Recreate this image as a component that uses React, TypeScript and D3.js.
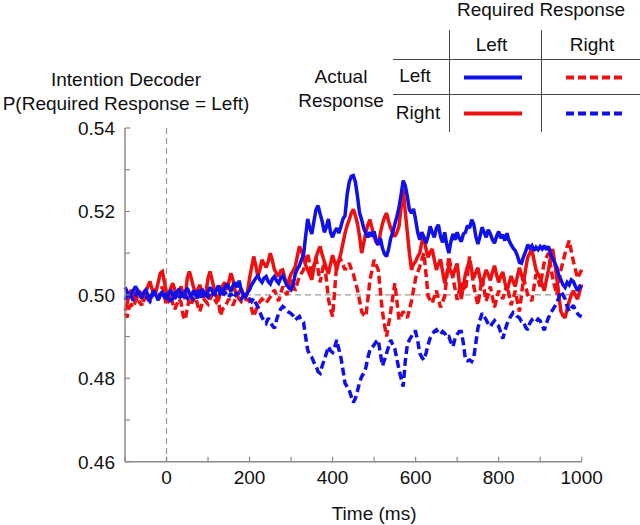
import React from 'react';
import * as d3 from 'd3';

const WIDTH = 640;
const HEIGHT = 525;
const FONT = '"Liberation Sans", Arial, sans-serif';
const BLUE = '#1010e8';
const RED = '#ee1010';
const AXIS = '#8a8a8a';

// time base of every series, ms (5 ms bins, -100 .. 1000)
const times = d3.range(-100, 1001, 5);

// Actual = Left, Required = Left (blue solid); one row per 100 ms
const actualLeftReqLeft = [
  0.5018, 0.5008, 0.4996, 0.5004, 0.501, 0.502, 0.5012, 0.5002, 0.4994, 0.5006, 0.5012, 0.5, 0.499, 0.5002, 0.501, 0.4998, 0.4988, 0.5, 0.5008, 0.4996,
  0.499, 0.5004, 0.5012, 0.4998, 0.499, 0.5006, 0.5014, 0.5002, 0.4994, 0.5008, 0.5016, 0.5004, 0.4996, 0.501, 0.5002, 0.4992, 0.5004, 0.5014, 0.5006, 0.4998,
  0.5008, 0.5018, 0.501, 0.5, 0.5012, 0.5022, 0.5014, 0.5004, 0.5016, 0.5026, 0.5018, 0.5008, 0.5022, 0.503, 0.5018, 0.5034, 0.501, 0.5002, 0.4996, 0.5006,
  0.5012, 0.5024, 0.5032, 0.504, 0.5046, 0.5036, 0.503, 0.504, 0.5044, 0.5032, 0.5026, 0.5038, 0.5044, 0.5034, 0.5028, 0.504, 0.5046, 0.5034, 0.5024, 0.5016,
  0.5012, 0.5024, 0.505, 0.5062, 0.507, 0.5084, 0.5096, 0.514, 0.5182, 0.516, 0.5146, 0.5176, 0.5204, 0.5214, 0.5194, 0.5176, 0.515, 0.5162, 0.5182, 0.515,
  0.5138, 0.5152, 0.516, 0.5148, 0.5164, 0.5182, 0.519, 0.524, 0.527, 0.5284, 0.5286, 0.527, 0.5236, 0.5196, 0.518, 0.516, 0.5148, 0.5138, 0.515, 0.514,
  0.5152, 0.513, 0.512, 0.5136, 0.5112, 0.5098, 0.5092, 0.511, 0.5136, 0.515, 0.517, 0.5188, 0.521, 0.524, 0.5274, 0.5262, 0.5236, 0.5204, 0.5196, 0.5206,
  0.518, 0.515, 0.5132, 0.515, 0.5138, 0.5124, 0.514, 0.5164, 0.515, 0.5138, 0.516, 0.5168, 0.514, 0.5126, 0.515, 0.512, 0.51, 0.5128, 0.5146, 0.5132,
  0.515, 0.5136, 0.5128, 0.5146, 0.515, 0.5166, 0.516, 0.518, 0.517, 0.514, 0.5122, 0.514, 0.5162, 0.515, 0.5138, 0.5156, 0.5146, 0.5132, 0.5124, 0.514,
  0.5152, 0.5136, 0.5144, 0.513, 0.5148, 0.513, 0.512, 0.5112, 0.5106, 0.5094, 0.5078, 0.5076, 0.5092, 0.5104, 0.512, 0.5112, 0.5118, 0.5106, 0.5114, 0.5108,
  0.5116, 0.511, 0.5118, 0.5108, 0.5116, 0.5098, 0.5088, 0.5076, 0.5066, 0.5046, 0.5036, 0.5024, 0.5018, 0.503, 0.5024, 0.5036, 0.5032, 0.502, 0.501, 0.502,
  0.5016,
];

// Actual = Right, Required = Left (red solid)
const actualRightReqLeft = [
  0.4962, 0.4978, 0.5, 0.5012, 0.5004, 0.4986, 0.4998, 0.501, 0.4994, 0.4984, 0.5006, 0.502, 0.5032, 0.5014, 0.5, 0.501, 0.503, 0.5052, 0.5056, 0.503,
  0.5006, 0.4994, 0.5016, 0.5028, 0.5012, 0.4998, 0.5008, 0.502, 0.5002, 0.499, 0.504, 0.5056, 0.5038, 0.5018, 0.5004, 0.5012, 0.5024, 0.501, 0.4994, 0.5006,
  0.504, 0.5056, 0.5034, 0.5014, 0.4996, 0.4988, 0.5006, 0.5022, 0.503, 0.5012, 0.503, 0.5052, 0.5036, 0.501, 0.4998, 0.5006, 0.5016, 0.5, 0.4992, 0.5006,
  0.504, 0.5066, 0.5092, 0.507, 0.5044, 0.5062, 0.5084, 0.5074, 0.5066, 0.508, 0.51, 0.5082, 0.506, 0.5052, 0.5044, 0.5058, 0.506, 0.504, 0.502, 0.5036,
  0.505, 0.5058, 0.5068, 0.5092, 0.5116, 0.5104, 0.509, 0.5072, 0.506, 0.5048, 0.5036, 0.5066, 0.509, 0.5104, 0.5116, 0.5096, 0.508, 0.5064, 0.505, 0.5074,
  0.5095, 0.5078, 0.506, 0.5082, 0.51, 0.5124, 0.5148, 0.5166, 0.518, 0.5196, 0.5205, 0.519, 0.517, 0.514, 0.51, 0.5124, 0.515, 0.5168, 0.518, 0.516,
  0.514, 0.5126, 0.512, 0.5148, 0.517, 0.5186, 0.5196, 0.5176, 0.516, 0.5148, 0.514, 0.515, 0.5165, 0.521, 0.5252, 0.52, 0.515, 0.51, 0.506, 0.5074,
  0.508, 0.5092, 0.51, 0.5126, 0.514, 0.511, 0.509, 0.5102, 0.511, 0.5084, 0.506, 0.5074, 0.5085, 0.5056, 0.5028, 0.505, 0.507, 0.5054, 0.5045, 0.5062,
  0.5075, 0.503, 0.499, 0.5022, 0.505, 0.5068, 0.508, 0.5058, 0.504, 0.5054, 0.5065, 0.504, 0.502, 0.5044, 0.506, 0.5048, 0.5035, 0.5054, 0.507, 0.5048,
  0.503, 0.5044, 0.5055, 0.503, 0.501, 0.5028, 0.5045, 0.5032, 0.502, 0.5044, 0.5065, 0.5048, 0.503, 0.5062, 0.509, 0.51, 0.5108, 0.5084, 0.506, 0.505,
  0.504, 0.5024, 0.501, 0.5036, 0.506, 0.5088, 0.511, 0.5078, 0.504, 0.4998, 0.496, 0.495, 0.4945, 0.4966, 0.4985, 0.5, 0.501, 0.4998, 0.499, 0.5008,
  0.5025,
];

// Actual = Left, Required = Right (red dashed)
const actualLeftReqRight = [
  0.4955, 0.4946, 0.497, 0.4976, 0.497, 0.4984, 0.4995, 0.4982, 0.4975, 0.499, 0.5002, 0.4992, 0.4985, 0.5, 0.5014, 0.5002, 0.499, 0.5006, 0.502, 0.4996,
  0.4975, 0.4988, 0.5, 0.498, 0.4965, 0.4978, 0.499, 0.4982, 0.495, 0.494, 0.4968, 0.4992, 0.498, 0.4988, 0.4995, 0.4975, 0.496, 0.4976, 0.499, 0.4984,
  0.4978, 0.499, 0.5002, 0.499, 0.4982, 0.4988, 0.495, 0.4966, 0.497, 0.498, 0.499, 0.4982, 0.4975, 0.4988, 0.4998, 0.499, 0.4984, 0.4992, 0.499, 0.4988,
  0.4985, 0.4966, 0.4948, 0.4962, 0.4975, 0.4984, 0.499, 0.4985, 0.498, 0.4988, 0.4995, 0.5004, 0.5012, 0.4998, 0.4985, 0.5002, 0.502, 0.501, 0.5, 0.5018,
  0.5036, 0.5022, 0.501, 0.5028, 0.5044, 0.5052, 0.506, 0.508, 0.51, 0.5074, 0.505, 0.507, 0.509, 0.506, 0.503, 0.5056, 0.508, 0.5036, 0.499, 0.4966,
  0.4948, 0.501, 0.5076, 0.508, 0.5084, 0.5072, 0.506, 0.5068, 0.5076, 0.5062, 0.505, 0.503, 0.5012, 0.4986, 0.496, 0.4952, 0.4948, 0.499, 0.5036, 0.506,
  0.5084, 0.5072, 0.506, 0.501, 0.496, 0.4928, 0.49, 0.493, 0.496, 0.4994, 0.5028, 0.4984, 0.494, 0.495, 0.496, 0.4952, 0.4945, 0.4964, 0.4985, 0.5012,
  0.504, 0.5054, 0.5068, 0.5084, 0.51, 0.505, 0.4996, 0.4988, 0.498, 0.4996, 0.501, 0.499, 0.497, 0.4984, 0.4996, 0.5044, 0.5092, 0.5066, 0.504, 0.5014,
  0.4988, 0.501, 0.503, 0.502, 0.501, 0.505, 0.5092, 0.5056, 0.502, 0.4998, 0.4975, 0.5008, 0.504, 0.5012, 0.4985, 0.5002, 0.502, 0.4995, 0.497, 0.499,
  0.501, 0.5, 0.499, 0.5008, 0.5025, 0.5, 0.4975, 0.4992, 0.501, 0.4984, 0.496, 0.5, 0.504, 0.502, 0.5, 0.4992, 0.4985, 0.5018, 0.505, 0.5036,
  0.502, 0.505, 0.508, 0.509, 0.51, 0.507, 0.504, 0.502, 0.5, 0.503, 0.506, 0.508, 0.51, 0.5116, 0.513, 0.5104, 0.508, 0.506, 0.504, 0.505,
  0.506,
];

// Actual = Right, Required = Right (blue dashed)
const actualRightReqRight = [
  0.4988, 0.5, 0.5008, 0.4996, 0.4986, 0.4998, 0.501, 0.5002, 0.4992, 0.5004, 0.5, 0.499, 0.4984, 0.4996, 0.5006, 0.4998, 0.4988, 0.5, 0.5006, 0.4994,
  0.5002, 0.499, 0.4984, 0.4998, 0.5006, 0.4996, 0.4988, 0.5004, 0.501, 0.4998, 0.4992, 0.5004, 0.4994, 0.4986, 0.4998, 0.501, 0.5002, 0.4994, 0.5008, 0.5,
  0.4994, 0.5004, 0.501, 0.4998, 0.5006, 0.5014, 0.5002, 0.4994, 0.5008, 0.5, 0.4994, 0.5004, 0.4992, 0.4998, 0.5006, 0.4996, 0.499, 0.4998, 0.4994, 0.4988,
  0.499, 0.4984, 0.4992, 0.498, 0.4972, 0.4958, 0.4946, 0.4938, 0.4932, 0.4944, 0.4936, 0.4926, 0.492, 0.494, 0.4956, 0.4966, 0.4972, 0.4968, 0.4962, 0.4958,
  0.4955, 0.495, 0.494, 0.4944, 0.4948, 0.4938, 0.4934, 0.49, 0.4868, 0.4856, 0.485, 0.4838, 0.483, 0.4816, 0.4812, 0.483, 0.4844, 0.486, 0.4876, 0.4866,
  0.4862, 0.4874, 0.4892, 0.487, 0.485, 0.482, 0.4788, 0.478, 0.4772, 0.4756, 0.4742, 0.4752, 0.477, 0.479, 0.4804, 0.4812, 0.4825, 0.485, 0.4868, 0.4874,
  0.488, 0.4888, 0.4892, 0.486, 0.483, 0.4844, 0.486, 0.4876, 0.4892, 0.488, 0.487, 0.4846, 0.482, 0.48, 0.478, 0.484, 0.488, 0.4892, 0.49, 0.4912,
  0.4912, 0.489, 0.486, 0.485, 0.4844, 0.486, 0.488, 0.4896, 0.4905, 0.4912, 0.4916, 0.4908, 0.4905, 0.4912, 0.4908, 0.4898, 0.49, 0.4886, 0.4876, 0.4896,
  0.4905, 0.4912, 0.4912, 0.4884, 0.4844, 0.4842, 0.4844, 0.484, 0.485, 0.4884, 0.492, 0.494, 0.4956, 0.4948, 0.494, 0.493, 0.4924, 0.4932, 0.4938, 0.493,
  0.4925, 0.491, 0.4895, 0.4914, 0.493, 0.4942, 0.495, 0.4958, 0.4956, 0.4948, 0.4945, 0.4936, 0.4935, 0.4922, 0.4916, 0.4932, 0.494, 0.4934, 0.4935, 0.4942,
  0.4938, 0.4926, 0.4915, 0.4932, 0.4945, 0.4956, 0.4964, 0.4972, 0.498, 0.4994, 0.5008, 0.5, 0.499, 0.4972, 0.496, 0.4968, 0.4975, 0.4962, 0.4955, 0.495,
  0.4948,
];

const xTicks = d3.range(-100, 1001, 100);
const xLabels = [0, 200, 400, 600, 800, 1000];
const yTicks = [0.46, 0.47, 0.48, 0.49, 0.5, 0.51, 0.52, 0.53, 0.54];
const yLabels = [0.46, 0.48, 0.5, 0.52, 0.54];

const series = [
  { name: 'Actual Left / Required Right', values: actualLeftReqRight, color: RED, dashed: true },
  { name: 'Actual Right / Required Left', values: actualRightReqLeft, color: RED, dashed: false },
  { name: 'Actual Right / Required Right', values: actualRightReqRight, color: BLUE, dashed: true },
  { name: 'Actual Left / Required Left', values: actualLeftReqLeft, color: BLUE, dashed: false },
];

const DASH = '8,4';

const App = () => {
  const xScale = d3.scaleLinear().domain([-100, 1000]).range([125, 581.7]);
  const yScale = d3.scaleLinear().domain([0.46, 0.54]).range([461.7, 128]);

  const line = d3
    .line<number>()
    .x((_, i) => xScale(times[i]))
    .y((d) => yScale(d));

  const x0 = xScale(-100);
  const x1 = xScale(1000);
  const yBottom = yScale(0.46);
  const yTop = yScale(0.54);

  return (
    <svg
      width={WIDTH}
      height={HEIGHT}
      style={{ position: 'absolute', left: 0, top: 0, background: '#fff' }}
      fontFamily={FONT}
    >
      {/* y title */}
      <text x={126} y={86} textAnchor="middle" fontSize={19} fill="#111">
        Intention Decoder
      </text>
      <text x={126} y={110} textAnchor="middle" fontSize={19} fill="#111">
        P(Required Response = Left)
      </text>

      {/* reference lines */}
      <line x1={xScale(0)} x2={xScale(0)} y1={yTop} y2={yBottom} stroke="#999" strokeWidth={1.2} strokeDasharray="6,4" />
      <line x1={x0} x2={x1} y1={yScale(0.5)} y2={yScale(0.5)} stroke="#999" strokeWidth={1.2} strokeDasharray="6,4" />

      {/* data */}
      {series.map((s) => (
        <path
          key={s.name}
          d={line(s.values) ?? ''}
          fill="none"
          stroke={s.color}
          strokeWidth={3.5}
          strokeLinejoin="miter"
          strokeMiterlimit={2}
          strokeDasharray={s.dashed ? DASH : undefined}
        />
      ))}

      {/* axes */}
      <line x1={x0} x2={x0} y1={yTop} y2={yBottom} stroke={AXIS} strokeWidth={1.5} />
      <line x1={x0} x2={x1} y1={yBottom} y2={yBottom} stroke={AXIS} strokeWidth={1.5} />
      {yTicks.map((t) => (
        <line key={t} x1={x0} x2={x0 + 5} y1={yScale(t)} y2={yScale(t)} stroke={AXIS} strokeWidth={1.2} />
      ))}
      {xTicks.map((t) => (
        <line key={t} x1={xScale(t)} x2={xScale(t)} y1={yBottom} y2={yBottom - 5} stroke={AXIS} strokeWidth={1.2} />
      ))}
      {yLabels.map((t) => (
        <text key={t} x={115} y={yScale(t)} dy="0.36em" textAnchor="end" fontSize={19} fill="#111">
          {t.toFixed(2)}
        </text>
      ))}
      {xLabels.map((t) => (
        <text key={t} x={xScale(t)} y={484} textAnchor="middle" fontSize={19} fill="#111">
          {t}
        </text>
      ))}
      <text x={(xScale(0) + xScale(1000)) / 2} y={520} textAnchor="middle" fontSize={19} fill="#111">
        Time (ms)
      </text>

      {/* legend table */}
      <text x={541} y={16} textAnchor="middle" fontSize={19} fill="#111">
        Required Response
      </text>
      <text x={491.5} y={51} textAnchor="middle" fontSize={19} fill="#111">Left</text>
      <text x={592} y={51} textAnchor="middle" fontSize={19} fill="#111">Right</text>
      <text x={341} y={83} textAnchor="middle" fontSize={19} fill="#111">Actual</text>
      <text x={341} y={107} textAnchor="middle" fontSize={19} fill="#111">Response</text>
      <text x={415} y={82} textAnchor="middle" fontSize={19} fill="#111">Left</text>
      <text x={418} y={119} textAnchor="middle" fontSize={19} fill="#111">Right</text>
      <line x1={393} x2={640} y1={59.5} y2={59.5} stroke="#444" strokeWidth={1} />
      <line x1={393} x2={640} y1={94.5} y2={94.5} stroke="#444" strokeWidth={1} />
      <line x1={449.5} x2={449.5} y1={30} y2={132} stroke="#444" strokeWidth={1} />
      <line x1={541.5} x2={541.5} y1={30} y2={132} stroke="#444" strokeWidth={1} />
      <line x1={464} x2={522} y1={77.5} y2={77.5} stroke={BLUE} strokeWidth={4} />
      <line x1={566} x2={623} y1={77.5} y2={77.5} stroke={RED} strokeWidth={4} strokeDasharray={DASH} />
      <line x1={464} x2={522} y1={113.5} y2={113.5} stroke={RED} strokeWidth={4} />
      <line x1={566} x2={623} y1={113.5} y2={113.5} stroke={BLUE} strokeWidth={4} strokeDasharray={DASH} />
    </svg>
  );
};

export default App;
